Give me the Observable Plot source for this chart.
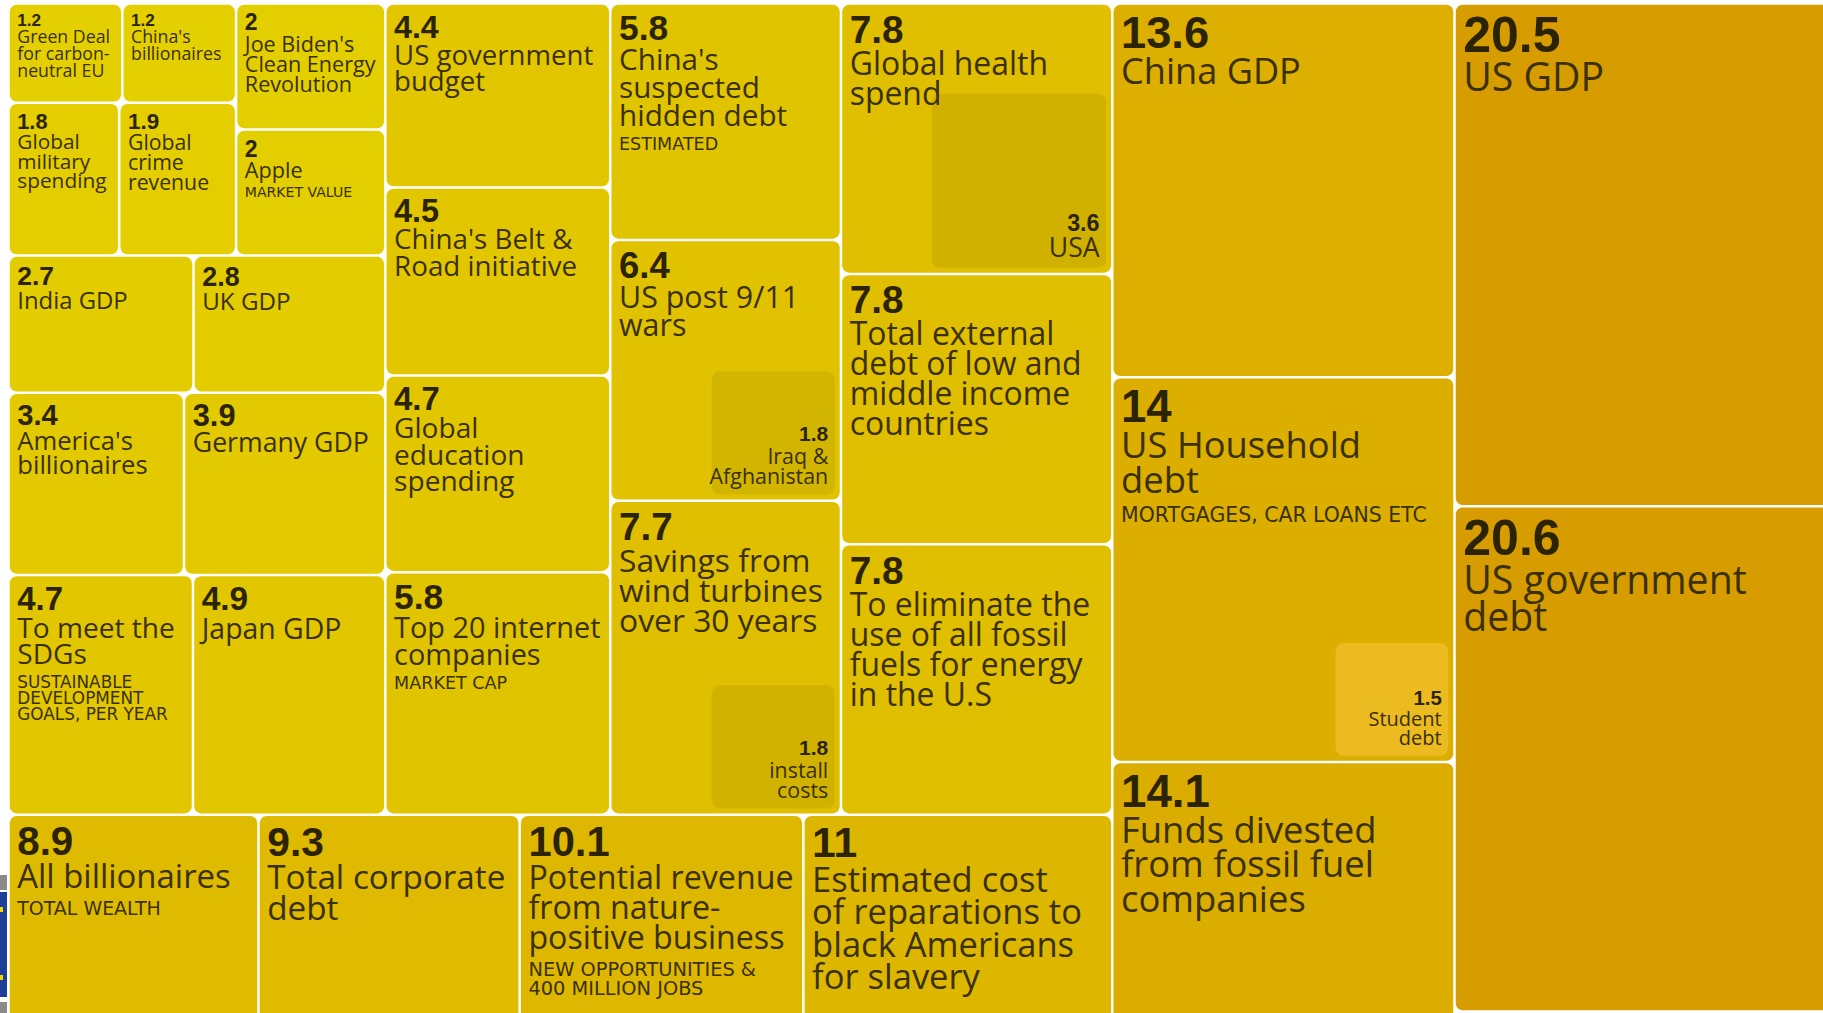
<!DOCTYPE html>
<html>
<head>
<meta charset="utf-8">
<script src="https://cdn.jsdelivr.net/npm/d3@7"></script>
<script src="https://cdn.jsdelivr.net/npm/@observablehq/plot@0.6"></script>
<style>
  html, body { margin: 0; padding: 0; background: #fff; overflow: hidden; width: 1823px; height: 1013px; }
  #chart { position: absolute; left: 0; top: 0; }
  #chart svg { overflow: hidden; display: block; max-width: none; }
  .frag { position: absolute; left: 0; width: 7px; }
</style>
</head>
<body>
<div id="chart"></div>
<div class="frag" style="top:875px;height:15px;background:#8a8a8a"></div>
<div class="frag" style="top:892px;height:105px;background:#1d3f98"></div>
<div class="frag" style="top:907px;height:5px;width:3px;background:#f2d500"></div>
<div class="frag" style="top:975px;height:5px;width:3px;background:#f2d500"></div>
<div class="frag" style="top:1002px;height:11px;background:#8a8a8a"></div>
<script>
// ---------- DATA (trillions of US$) ----------
const labels = [
  "Green Deal\nfor carbon-\nneutral EU",
  "China's\nbillionaires",
  "Joe Biden's\nClean Energy\nRevolution",
  "Global\nmilitary\nspending",
  "Global\ncrime\nrevenue",
  "Apple",
  "India GDP",
  "UK GDP",
  "America's\nbillionaires",
  "Germany GDP",
  "To meet the\nSDGs",
  "Japan GDP",
  "US government\nbudget",
  "China's Belt &\nRoad initiative",
  "Global\neducation\nspending",
  "Top 20 internet\ncompanies",
  "China's\nsuspected\nhidden debt",
  "US post 9/11\nwars",
  "Savings from\nwind turbines\nover 30 years",
  "Global health\nspend",
  "Total external\ndebt of low and\nmiddle income\ncountries",
  "To eliminate the\nuse of all fossil\nfuels for energy\nin the U.S",
  "All billionaires",
  "Total corporate\ndebt",
  "Potential revenue\nfrom nature-\npositive business",
  "Estimated cost\nof reparations to\nblack Americans\nfor slavery",
  "China GDP",
  "US Household\ndebt",
  "Funds divested\nfrom fossil fuel\ncompanies",
  "US GDP",
  "US government\ndebt"
];
const values = [1.2, 1.2, 2, 1.8, 1.9, 2, 2.7, 2.8, 3.4, 3.9, 4.7, 4.9, 4.4, 4.5, 4.7, 5.8, 5.8, 6.4, 7.7, 7.8, 7.8, 7.8, 8.9, 9.3, 10.1, 11, 13.6, 14, 14.1, 20.5, 20.6];
const notes = [
  "", "", "", "", "", "MARKET VALUE", "", "", "", "",
  "SUSTAINABLE\nDEVELOPMENT\nGOALS, PER YEAR", "", "", "", "", "MARKET CAP", "ESTIMATED",
  "", "", "", "", "", "TOTAL WEALTH", "", "NEW OPPORTUNITIES &\n400 MILLION JOBS", "",
  "", "MORTGAGES, CAR LOANS ETC", "", "", ""
];
// sub-amounts shown inside a parent box
const insetParent = [19, 17, 18, 27];
const insetValues = [3.6, 1.8, 1.8, 1.5];
const insetLabels = ["USA", "Iraq &\nAfghanistan", "install\ncosts", "Student\ndebt"];
const insetTone = ["dark", "dark", "dark", "light"];

// layout structure: strips taken from the outside in (columns on the right, rows at the bottom)
const stripsA = [
  {dir: "col", items: [26, 27, 28]},
  {dir: "row", items: [22, 23, 24, 25]},
  {dir: "col", items: [19, 20, 21]},
  {dir: "col", items: [16, 17, 18]},
  {dir: "col", items: [12, 13, 14, 15]},
  {dir: "row", items: [10, 11]},
  {dir: "row", items: [8, 9]},
  {dir: "row", items: [6, 7]},
  {dir: "col", items: [2, 5]},
  {dir: "row", items: [3, 4]},
  {dir: "row", items: [0, 1]}
];
const stripsB = [
  {dir: "row", items: [30]},
  {dir: "row", items: [29]}
];
const frameA = {x0: 8.5, y0: 3.5, x1: 1454.5, y1: 1149.5};
const frameB = {x0: 1454.5, y0: 3.5, x1: 1835.5, y1: 1011.5};

// ---------- LAYOUT ----------
function tile(strips, frame) {
  let {x0, y0, x1, y1} = frame;
  let remaining = d3.sum(strips.flatMap(s => s.items), i => values[i]);
  const out = [];
  for (const s of strips) {
    const sv = d3.sum(s.items, i => values[i]);
    if (s.dir === "col") {
      const cx0 = x1 - (x1 - x0) * sv / remaining;
      let y = y0;
      for (const i of s.items) {
        const h = (y1 - y0) * values[i] / sv;
        out.push({i, x0: cx0, x1, y0: y, y1: y + h});
        y += h;
      }
      x1 = cx0;
    } else {
      const ry0 = y1 - (y1 - y0) * sv / remaining;
      let x = x0;
      for (const i of s.items) {
        const w = (x1 - x0) * values[i] / sv;
        out.push({i, x0: x, x1: x + w, y0: ry0, y1});
        x += w;
      }
      y1 = ry0;
    }
    remaining -= sv;
  }
  return out;
}
const GAP = 1.25;
const cells = [...tile(stripsA, frameA), ...tile(stripsB, frameB)].map(c => ({
  ...c, x0: c.x0 + GAP, x1: c.x1 - GAP, y0: c.y0 + GAP, y1: c.y1 - GAP, value: values[c.i]
}));

const LABEL_FONT = "'Open Sans'";
const LABEL_WEIGHT = 400;
const SUB_FONT = "'DejaVu Sans'";
const NUM_FONT = "'Liberation Sans', Arial";
const LH = 0.94, SUB_LH = 0.97, IN_LH = 0.95;
const ctx = document.createElement("canvas").getContext("2d");
function emWidth(text, family, weight = "normal") {
  if (!text) return 0;
  ctx.font = `${weight} 100px ${family}`;
  return d3.max(text.split("\n"), l => ctx.measureText(l).width) / 100;
}

cells.forEach(c => {
  const v = values[c.i], ln = Math.log(v), w = c.x1 - c.x0;
  const avail = w - 16;
  c.numH = 11.4 + 8.8 * ln;
  c.numFont = c.numH / 0.76;
  c.labFont = Math.min((11.7 + 5.4 * ln) / 0.714, avail / emWidth(labels[c.i], LABEL_FONT, LABEL_WEIGHT));
  c.labCap = c.labFont * 0.714;
  c.numTop = c.y0 + 7 + 0.1 * c.numH;
  c.yNum = c.numTop + (0.716 - 0.71) * c.numFont;
  c.labTop = c.numTop + c.numH + 0.32 * c.labCap;
  c.yLab = c.labTop + (0.714 - 0.71 * LH) * c.labFont;
  const n = labels[c.i].split("\n").length;
  const lastBase = c.labTop + c.labCap + (n - 1) * LH * c.labFont;
  c.subFont = notes[c.i] ? Math.min((8.6 + 2.4 * ln) / 0.73, avail / emWidth(notes[c.i], SUB_FONT)) : 12;
  c.subTop = lastBase + 0.55 * c.labCap;
  c.ySub = c.subTop + (0.73 - 0.71 * SUB_LH) * c.subFont;
  c.xText = c.x0 + 7;
});

const insets = insetValues.map((v, k) => {
  const par = cells.find(c => c.i === insetParent[k]);
  const side = 0.955 * Math.sqrt(v / values[insetParent[k]] * (par.x1 - par.x0) * (par.y1 - par.y0));
  const x1 = par.x1 - 5, y1 = par.y1 - 5;
  const ln = Math.log(v);
  const font = 17 + 7.5 * ln;
  const n = insetLabels[k].split("\n").length;
  const lastBase = y1 - 11;
  const firstBase = lastBase - (n - 1) * IN_LH * font;
  const numH = 14.5 + 2.5 * ln;
  return {
    k, value: v, label: insetLabels[k], tone: insetTone[k],
    x0: x1 - side, x1, y0: y1 - side, y1,
    font, numFont: numH / 0.76,
    xText: x1 - 7, yLab: lastBase, yNum: firstBase - font * 0.714 - 7
  };
});

// ---------- PLOT ----------
const W = 1823, H = 1013;
const chart = Plot.plot({
  width: W, height: H,
  margin: 0,
  x: {domain: [0, W], range: [0, W], axis: null},
  y: {domain: [0, H], range: [0, H], axis: null},
  color: {type: "linear", domain: [1.2, 20.6], range: ["#e4d000", "#d79c00"], interpolate: "rgb"},
  style: {background: "#ffffff"},
  marks: [
    Plot.rect(cells, {x1: "x0", x2: "x1", y1: "y0", y2: "y1", fill: "value", rx: 7, ry: 7}),
    Plot.rect(insets.filter(d => d.tone === "dark"), {x1: "x0", x2: "x1", y1: "y0", y2: "y1", fill: "#000000", fillOpacity: 0.065, rx: 8, ry: 8}),
    Plot.rect(insets.filter(d => d.tone === "light"), {x1: "x0", x2: "x1", y1: "y0", y2: "y1", fill: "#ebbb20", rx: 8, ry: 8}),
    Plot.text(cells, {
      x: "xText", y: "yNum", text: d => String(values[d.i]),
      fontSize: d => d.numFont, fontWeight: "bold", fontFamily: NUM_FONT,
      textAnchor: "start", lineAnchor: "top", fill: "#2c2400"
    }),
    Plot.text(cells, {
      x: "xText", y: "yLab", text: d => labels[d.i],
      fontSize: d => d.labFont, fontFamily: LABEL_FONT, fontWeight: LABEL_WEIGHT, lineHeight: LH,
      textAnchor: "start", lineAnchor: "top", fill: "#3a3000"
    }),
    Plot.text(cells.filter(d => notes[d.i]), {
      x: "xText", y: "ySub", text: d => notes[d.i],
      fontSize: d => d.subFont, fontFamily: SUB_FONT, lineHeight: SUB_LH,
      textAnchor: "start", lineAnchor: "top", fill: "#3a3000"
    }),
    Plot.text(insets, {
      x: "xText", y: "yNum", text: d => String(d.value),
      fontSize: d => d.numFont, fontWeight: "bold", fontFamily: NUM_FONT,
      textAnchor: "end", lineAnchor: "bottom", fill: "#2c2400"
    }),
    Plot.text(insets, {
      x: "xText", y: "yLab", text: "label",
      fontSize: d => d.font, fontFamily: LABEL_FONT, fontWeight: LABEL_WEIGHT, lineHeight: IN_LH,
      textAnchor: "end", lineAnchor: "bottom", fill: "#3a3000"
    })
  ]
});
document.getElementById("chart").appendChild(chart);
</script>
</body>
</html>
